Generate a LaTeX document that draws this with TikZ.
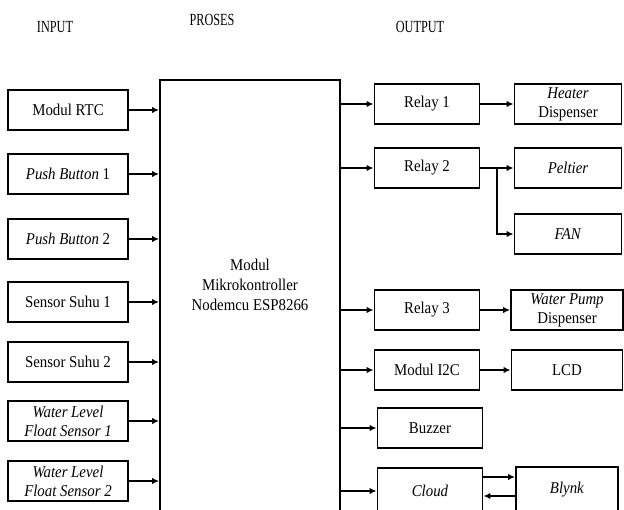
\documentclass[tikz,border=0pt]{standalone}
\usepackage{fontspec}
\setmainfont{Liberation Serif}[FakeStretch=0.9]
\newfontfamily\headfont{Liberation Serif}[FakeStretch=0.72]
\usetikzlibrary{arrows.meta, calc}

\begin{document}
\begin{tikzpicture}[x=1pt, y=-1pt,
  inbox/.style={draw, line width=1.9pt, minimum width=120pt, minimum height=40pt, align=center, inner sep=1pt, font=\fontsize{16.5}{19}\selectfont},
  outbox/.style={inbox, minimum width=105pt},
  devbox/.style={inbox, minimum width=107pt},
  mcubox/.style={draw, line width=1.9pt, minimum width=180pt, minimum height=460pt},
  link/.style={-{Latex[length=7pt,width=6.5pt]}, line width=1.7pt},
  head/.style={font=\headfont\fontsize{17}{20}\selectfont}
]
\useasboundingbox (0,0) rectangle (624,509);
\clip (0,0) rectangle (624,509);

% Headings
\node[head] (hin) at (55,27) {INPUT};
\node[head] (hproc) at (212,20) {PROSES};
\node[head] (hout) at (420,27) {OUTPUT};

% Process block (runs past the bottom edge)
\node[mcubox] (mcu) at (250,310) {};
\node[align=center, font=\fontsize{16.5}{20}\selectfont] (mcutext) at (250,285) {Modul\\Mikrokontroller\\Nodemcu ESP8266};

% Input blocks
\node[inbox] (rtc) at (68,110) {Modul RTC};
\node[inbox] (pb1) at (68,174) {\textit{Push Button} 1};
\node[inbox] (pb2) at (68,239) {\textit{Push Button} 2};
\node[inbox] (ss1) at (68,302) {Sensor Suhu 1};
\node[inbox] (ss2) at (68,362) {Sensor Suhu 2};
\node[inbox] (wl1) at (68,421) {\textit{Water Level}\\\textit{Float Sensor 1}};
\node[inbox] (wl2) at (68,481) {\textit{Water Level}\\\textit{Float Sensor 2}};

% Output blocks
\node[outbox] (relay1) at (427,104) {Relay 1};
\node[outbox] (relay2) at (427,168) {Relay 2};
\node[outbox] (relay3) at (427,310) {Relay 3};
\node[outbox] (i2c) at (427,370) {Modul I2C};
\node[outbox] (buzzer) at (430,428) {Buzzer};
\node[outbox, minimum height=46pt] (cloud) at (430,491) {\textit{Cloud}};

% Devices
\node[devbox] (heater) at (568,104) {\textit{Heater}\\Dispenser};
\node[devbox] (peltier) at (568,168) {\textit{Peltier}};
\node[devbox] (fan) at (568,234) {\textit{FAN}};
\node[devbox, minimum width=112pt] (pump) at (567,310) {\textit{Water Pump}\\Dispenser};
\node[devbox, minimum width=111pt] (lcd) at (567,370) {LCD};
\node[devbox, minimum width=102pt, minimum height=46pt] (blynk) at (567,490) {\textit{Blynk}};

% Inputs into the controller
\foreach \n in {rtc,pb1,pb2,ss1,ss2,wl1,wl2}{\draw[link] (\n.east) -- (\n.east -| mcu.west);}

% Controller to outputs
\foreach \n in {relay1,relay2,relay3,i2c,buzzer,cloud}{\draw[link] (\n.west -| mcu.east) -- (\n.west);}

% Outputs to devices
\draw[link] (relay1.east) -- (relay1.east -| heater.west);
\draw[link] (relay2.east) -- (peltier.west);
\coordinate (split) at ($(relay2.east)!0.5!(peltier.west)$);
\draw[link] (split) |- (fan.west);
\draw[link] (relay3.east) -- (pump.west);
\draw[link] (i2c.east) -- (lcd.west);
\draw[link] ([yshift=14pt]cloud.east) -- ([yshift=14pt]cloud.east -| blynk.west);
\draw[link] ([yshift=-6pt]blynk.west) -- ([yshift=-6pt]blynk.west -| cloud.east);
\end{tikzpicture}
\end{document}
